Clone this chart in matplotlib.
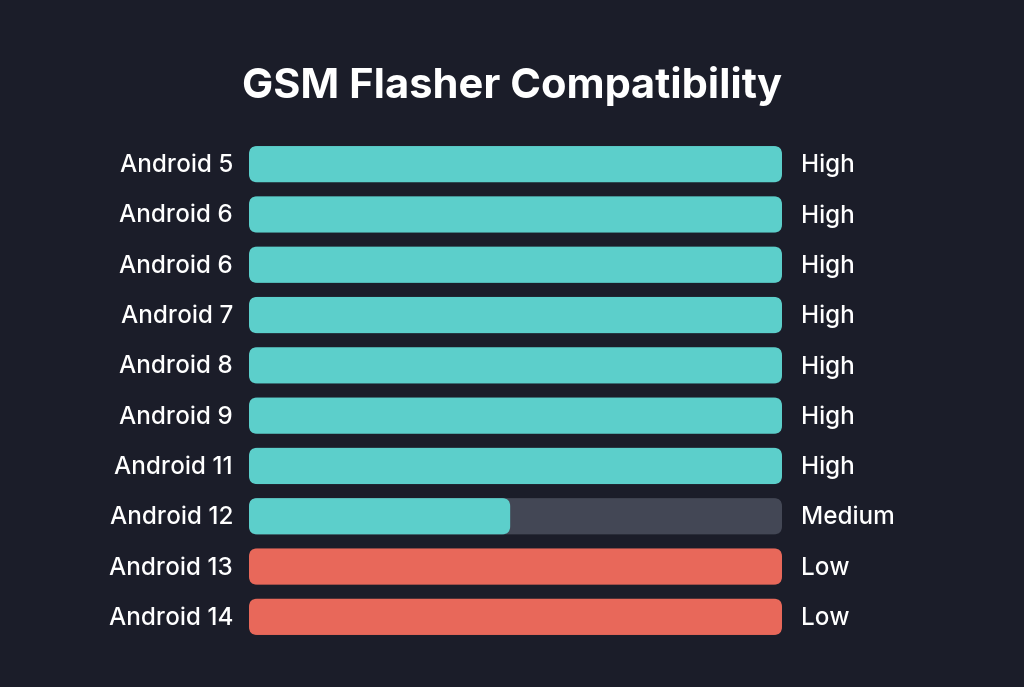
import matplotlib
matplotlib.use("Agg")
import matplotlib.pyplot as plt
from matplotlib.patches import FancyBboxPatch

# data
versions = ["Android 5", "Android 6", "Android 6", "Android 7", "Android 8",
            "Android 9", "Android 11", "Android 12", "Android 13", "Android 14"]
levels = ["High", "High", "High", "High", "High",
          "High", "High", "Medium", "Low", "Low"]
values = [100, 100, 100, 100, 100, 100, 100, 49, 100, 100]

colors = {"High": "#5ccfcb", "Medium": "#5ccfcb", "Low": "#e8685a"}
bg = "#1b1d29"
track = "#434755"

plt.rcParams['font.family'] = ['Inter', 'DejaVu Sans']

fig = plt.figure(figsize=(10.24, 6.87), dpi=100, facecolor=bg)
W, H = 1024, 687
ax = fig.add_axes([249 / W, 1 - 642 / H, 533 / W, 503 / H])
ax.set_facecolor(bg)
ax.set_xlim(0, 100)
ax.set_ylim(len(versions) - 0.5, -0.5)
ax.axis('off')

bar_h = 0.72
# aspect: y units per pixel / x units per pixel
aspect = (len(versions) / 503) / (100 / 533)
rad = 1.5

def rbar(x0, y, w, color):
    p = FancyBboxPatch((x0, y - bar_h / 2), w, bar_h,
                       boxstyle=f"round,pad=0,rounding_size={rad}",
                       mutation_aspect=aspect, fc=color, ec='none')
    ax.add_patch(p)

for i, (v, lev, val) in enumerate(zip(versions, levels, values)):
    if val < 100:
        rbar(0, i, 100, track)
    rbar(0, i, val, colors[lev])
    ax.text(-3, i + 0.03, v, ha='right', va='center', color='white',
            fontsize=17.5, fontweight='medium', clip_on=False)
    ax.text(103.6, i + 0.03, lev, ha='left', va='center', color='white',
            fontsize=17.5, fontweight='medium', clip_on=False)

fig.text(0.5, 1 - 86 / H, "GSM Flasher Compatibility", ha='center', va='center',
         color='white', fontsize=30, fontweight='bold')

fig.savefig("out.png", dpi=100, facecolor=bg)
